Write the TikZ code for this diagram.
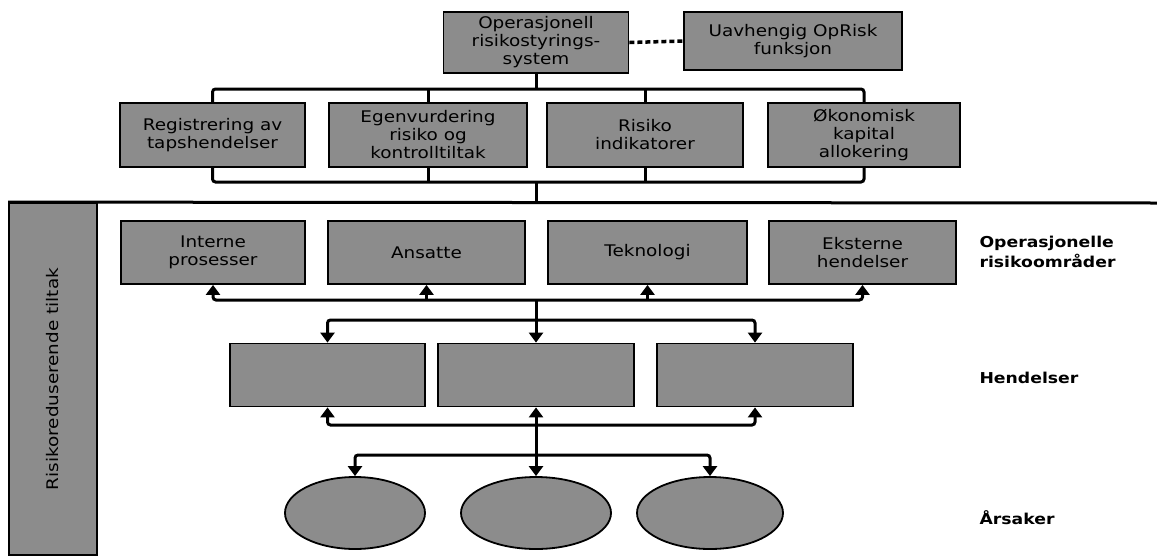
\documentclass[tikz,border=0pt]{standalone}
\usepackage{fontspec}
\usetikzlibrary{arrows.meta,shapes.geometric}
\newfontfamily\boxfont[FakeStretch=1.15]{DejaVu Sans}
\newfontfamily\lblfont[FakeStretch=1.15]{DejaVu Sans}
\definecolor{boxgray}{RGB}{140,140,140}
\tikzset{
  bx/.style={draw=black, line width=1.8pt, fill=boxgray, inner sep=0pt,
    align=center, text=black, font=\boxfont\fontsize{16}{18}\selectfont},
  oval/.style={bx, ellipse},
  lbl/.style={anchor=west, align=left, font=\lblfont\bfseries\fontsize{15}{20}\selectfont},
  conn/.style={line width=3pt, rounded corners=3pt},
  tip/.style={conn, -{Triangle[width=14pt,length=10pt]}},
  both/.style={conn, {Triangle[width=14pt,length=10pt]}-{Triangle[width=14pt,length=10pt]}},
  dashline/.style={line width=3.5pt, dash pattern=on 5pt off 3pt}
}
\begin{document}
\begin{tikzpicture}[x=1pt,y=-1pt]
\useasboundingbox (0,0) rectangle (1157,555);

% governance layer
\node[bx, minimum width=185, minimum height=61] (ors) at (536,42.5)
  {Operasjonell\\risikostyrings-\\system};
\node[bx, minimum width=218, minimum height=58] (opr) at (793,41)
  {Uavhengig OpRisk\\funksjon};
\draw[dashline] (ors.east) -- (opr.west);

\node[bx, minimum width=185, minimum height=64] (reg) at (212.5,135)
  {Registrering av\\tapshendelser};
\node[bx, minimum width=198, minimum height=64] (egen) at (428,135)
  {Egenvurdering\\risiko og\\kontrolltiltak};
\node[bx, minimum width=196, minimum height=64] (risk) at (645,135)
  {Risiko\\indikatorer};
\node[bx, minimum width=192, minimum height=64] (okon) at (864,135)
  {Økonomisk\\kapital\\allokering};

\coordinate (topbus) at (536,89);
\coordinate (botbus) at (536,182);
\draw[conn] (ors.south) -- (topbus);
\draw[conn] (reg.north) |- (topbus) -| (okon.north);
\draw[conn] (egen.north) -- (egen.north |- topbus);
\draw[conn] (risk.north) -- (risk.north |- topbus);
\draw[conn] (reg.south) |- (botbus) -| (okon.south);
\draw[conn] (egen.south) -- (egen.south |- botbus);
\draw[conn] (risk.south) -- (risk.south |- botbus);

% separating rule and side panel
\node[bx, minimum width=88, minimum height=352] (side) at (53,379)
  {\rotatebox{90}{Risikoreduserende tiltak}};
\coordinate (rulemid) at (536,203);
\coordinate (ruleend) at (1157,203);
\draw[conn] (botbus) -- (rulemid);
\draw[line width=3pt] (side.north west) -- (ruleend);

% operational risk areas
\node[bx, minimum width=184, minimum height=63] (intp) at (213,252.5)
  {Interne\\prosesser};
\node[bx, minimum width=197, minimum height=63] (ans) at (426.5,252.5)
  {Ansatte};
\node[bx, minimum width=199, minimum height=63] (tek) at (647.5,252.5)
  {Teknologi};
\node[bx, minimum width=187, minimum height=63] (eks) at (862.5,252.5)
  {Eksterne\\hendelser};

\coordinate (hubA) at (536,300);
\coordinate (hubB) at (536,320);
\draw[both] (intp.south) |- (hubA) -| (eks.south);
\draw[tip] (ans.south |- hubA) -- (ans.south);
\draw[tip] (tek.south |- hubA) -- (tek.south);
\draw[conn] (hubA) -- (hubB);

% events
\node[bx, minimum width=195, minimum height=63] (ev1) at (327.5,375) {};
\node[bx, minimum width=196, minimum height=63] (ev2) at (536,375) {};
\node[bx, minimum width=196, minimum height=63] (ev3) at (755,375) {};

\coordinate (hubC) at (536,425);
\coordinate (hubD) at (536,455);
\draw[both] (ev1.north) |- (hubB) -| (ev3.north);
\draw[tip] (hubB) -- (ev2.north);
\draw[both] (ev1.south) |- (hubC) -| (ev3.south);
\draw[tip] (hubC) -- (ev2.south);
\draw[conn] (hubC) -- (hubD);

% causes
\node[oval, minimum width=140, minimum height=72] (ca1) at (355,513) {};
\node[oval, minimum width=150, minimum height=72] (ca2) at (536,513) {};
\node[oval, minimum width=146, minimum height=72] (ca3) at (710,513) {};
\draw[both] (ca1.north) |- (hubD) -| (ca3.north);
\draw[tip] (hubD) -- (ca2.north);

% level labels
\node[lbl] (lvl1) at (976,252) {Operasjonelle\\risikoområder};
\node[lbl] (lvl2) at (976,378) {Hendelser};
\node[lbl] (lvl3) at (976,518) {Årsaker};
\end{tikzpicture}
\end{document}
